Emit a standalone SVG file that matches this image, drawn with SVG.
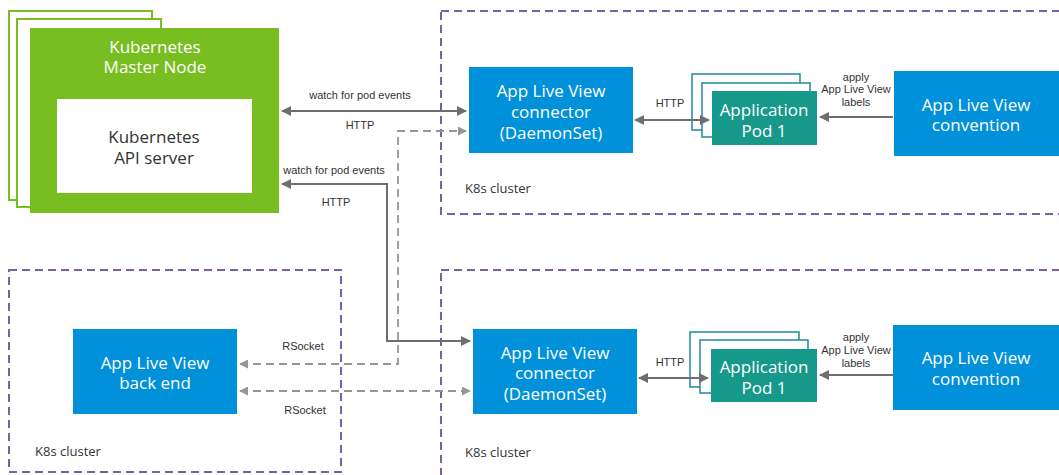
<svg xmlns="http://www.w3.org/2000/svg" width="1059" height="475" viewBox="0 0 1059 475">
<style>
.big{font-family:"Open Sans","Liberation Sans",sans-serif;font-size:17px;fill:#fff;text-anchor:middle}
.dark{fill:#333}
.sm{font-family:"Liberation Sans",Arial,sans-serif;font-size:11px;fill:#333;text-anchor:middle}
.cl{font-family:"Open Sans","Liberation Sans",sans-serif;font-size:13px;fill:#333}
.cluster{fill:none;stroke:#7b5ea7;stroke-width:2;stroke-dasharray:8 5}
.blue{fill:#0091da}
.pod{fill:#16998a}
.podback{fill:#fff;stroke:#1e8a9a;stroke-width:1.5}
.gback{fill:#fff;stroke:#78be20;stroke-width:2}
.solid{fill:none;stroke:#6e6e6e;stroke-width:2;marker-start:url(#ah);marker-end:url(#ah)}
.dash{fill:none;stroke:#909898;stroke-width:1.8;stroke-dasharray:8 5;marker-start:url(#ahd);marker-end:url(#ahd)}
</style>
<defs>
<marker id="ah" viewBox="0 0 10 10" refX="9" refY="5" markerWidth="5" markerHeight="5" orient="auto-start-reverse"><path d="M0,0 L10,5 L0,10 Z" fill="#6e6e6e"/></marker>
<marker id="ahd" viewBox="0 0 10 10" refX="9" refY="5" markerWidth="5" markerHeight="5" orient="auto-start-reverse"><path d="M0,0 L10,5 L0,10 Z" fill="#909898"/></marker>
</defs>
<rect width="1059" height="475" fill="#fff"/>

<g id="clusters">
<rect class="cluster" x="441" y="11" width="640" height="203"/>
<rect class="cluster" x="441" y="270" width="640" height="230"/>
<rect class="cluster" x="9" y="270" width="332" height="202"/>
<text class="cl" x="465" y="193">K8s cluster</text>
<text class="cl" x="35" y="456">K8s cluster</text>
<text class="cl" x="465" y="457">K8s cluster</text>
</g>

<g id="master-node">
<rect class="gback" x="9" y="11" width="143" height="189"/>
<rect class="gback" x="17" y="19" width="144" height="188"/>
<rect x="30" y="28" width="249" height="185" fill="#78be20"/>
<text class="big" x="155" y="53">Kubernetes</text>
<text class="big" x="155" y="73">Master Node</text>
</g>
<g id="api-server">
<rect x="57" y="99" width="195" height="94" fill="#fff"/>
<text class="big dark" x="154" y="143">Kubernetes</text>
<text class="big dark" x="154" y="164">API server</text>
</g>

<g id="connector-top">
<rect class="blue" x="469" y="67" width="164" height="86"/>
<text class="big" x="551" y="97">App Live View</text>
<text class="big" x="551" y="118">connector</text>
<text class="big" x="551" y="139">(DaemonSet)</text>
</g>
<g id="pod-top">
<rect class="podback" x="692" y="74" width="108" height="56"/>
<rect class="podback" x="702" y="83" width="108" height="54"/>
<rect class="pod" x="712" y="91" width="105" height="54"/>
<text class="big" x="764" y="116">Application</text>
<text class="big" x="764" y="137">Pod 1</text>
</g>
<g id="convention-top">
<rect class="blue" x="894" y="71" width="170" height="85"/>
<text class="big" x="976" y="111">App Live View</text>
<text class="big" x="976" y="131">convention</text>
</g>

<g id="backend">
<rect class="blue" x="73" y="329" width="164" height="85"/>
<text class="big" x="155" y="369">App Live View</text>
<text class="big" x="155" y="389">back end</text>
</g>

<g id="connector-bottom">
<rect class="blue" x="473" y="329" width="164" height="85"/>
<text class="big" x="555" y="359">App Live View</text>
<text class="big" x="555" y="379">connector</text>
<text class="big" x="555" y="400">(DaemonSet)</text>
</g>
<g id="pod-bottom">
<rect class="podback" x="690" y="332" width="109" height="55"/>
<rect class="podback" x="700" y="340" width="108" height="53"/>
<rect class="pod" x="711" y="349" width="106" height="53"/>
<text class="big" x="764" y="373">Application</text>
<text class="big" x="764" y="394">Pod 1</text>
</g>
<g id="convention-bottom">
<rect class="blue" x="893" y="325" width="170" height="85"/>
<text class="big" x="976" y="364">App Live View</text>
<text class="big" x="976" y="385">convention</text>
</g>

<g id="connectors">
<path class="solid" d="M282,111 H466"/>
<path class="solid" d="M282,184 H387 V341 H470"/>
<path class="dash" d="M240,364 H398 V131 H466"/>
<path class="dash" d="M240,391 H470"/>
<path class="solid" d="M635,120 H709"/>
<path class="solid" d="M639,378 H708"/>
<path d="M893,117 H820" fill="none" stroke="#6e6e6e" stroke-width="2" marker-end="url(#ah)"/>
<path d="M893,375 H820" fill="none" stroke="#6e6e6e" stroke-width="2" marker-end="url(#ah)"/>
<text class="sm" x="360" y="99">watch for pod events</text>
<text class="sm" x="360" y="129">HTTP</text>
<text class="sm" x="334" y="174">watch for pod events</text>
<text class="sm" x="336" y="206">HTTP</text>
<text class="sm" x="303" y="350">RSocket</text>
<text class="sm" x="305" y="414">RSocket</text>
<text class="sm" x="670" y="107">HTTP</text>
<text class="sm" x="670" y="366">HTTP</text>
<text class="sm" x="856" y="81">apply</text>
<text class="sm" x="856" y="93">App Live View</text>
<text class="sm" x="856" y="106">labels</text>
<text class="sm" x="856" y="341">apply</text>
<text class="sm" x="856" y="354">App Live View</text>
<text class="sm" x="856" y="367">labels</text>
</g>
</svg>
